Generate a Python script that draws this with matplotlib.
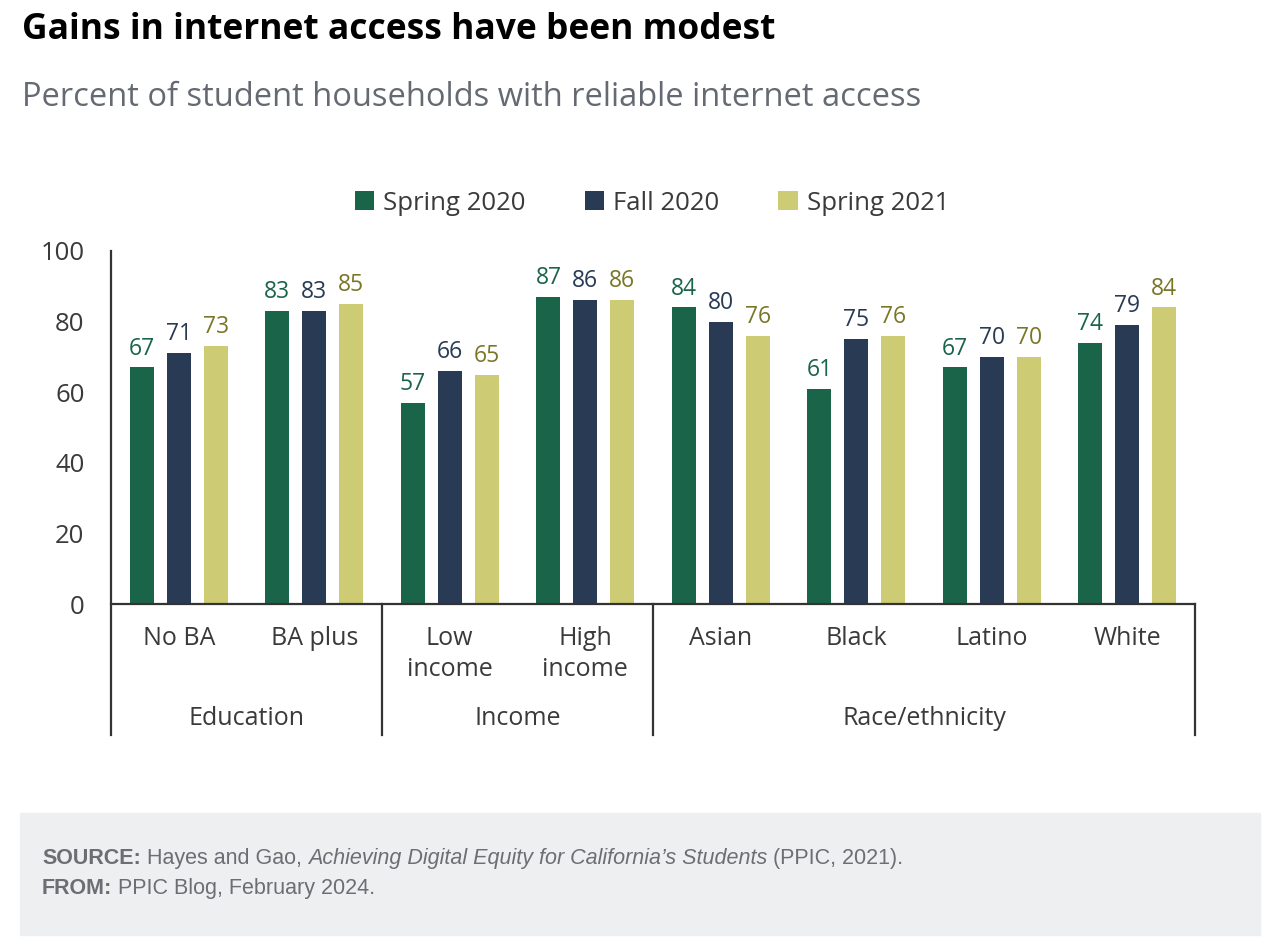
import matplotlib.pyplot as plt
import numpy as np

plt.rcParams['font.family'] = ['Open Sans', 'DejaVu Sans']

categories = ['No BA', 'BA plus', 'Low\nincome', 'High\nincome', 'Asian', 'Black', 'Latino', 'White']
groups = ['Education', 'Income', 'Race/ethnicity']
group_spans = [(0, 1), (2, 3), (4, 7)]
series = ['Spring 2020', 'Fall 2020', 'Spring 2021']
spring_2020 = [67, 83, 57, 87, 84, 61, 67, 74]
fall_2020 = [71, 83, 66, 86, 80, 75, 70, 79]
spring_2021 = [73, 85, 65, 86, 76, 76, 70, 84]

bar_colors = ['#1a6449', '#283a54', '#cdcb74']
text_colors = ['#1a6449', '#283a54', '#7a7628']
axis_color = '#333333'
text_grey = '#3a3a3a'

fig = plt.figure(figsize=(12.8, 9.44), dpi=100)
ax = fig.add_axes([111 / 1280, 1 - 604 / 944, (1195 - 111) / 1280, (604 - 251) / 944])

x = np.arange(len(categories))
width = 0.178
offset = 0.272
for i, vals in enumerate([spring_2020, fall_2020, spring_2021]):
    pos = x + (i - 1) * offset
    ax.bar(pos, vals, width, color=bar_colors[i], label=series[i], zorder=2)
    for p, v in zip(pos, vals):
        ax.annotate(str(v), (p, v), xytext=(0, 5), textcoords='offset points',
                    ha='center', va='bottom', fontsize=16.5, color=text_colors[i])

ax.set_xlim(-0.5, len(categories) - 0.5)
ax.set_ylim(0, 100)
ax.set_yticks(range(0, 101, 20))
ax.tick_params(axis='y', length=0, labelsize=18.5, labelcolor=text_grey, pad=19)
ax.set_xticks([])
for s in ['top', 'right']:
    ax.spines[s].set_visible(False)
ax.spines['left'].set_visible(False)
ax.spines['bottom'].set_color(axis_color)
ax.spines['bottom'].set_linewidth(1.6)

# vertical separators extending below the axis
bottom_px = 735
y_low = -(bottom_px - 604) / (604 - 251) * 100
for xs in [-0.5, 1.5, 3.5, 7.5]:
    top = 100 if xs == -0.5 else 0
    ax.plot([xs, xs], [y_low, top], color=axis_color, lw=1.6, clip_on=False, zorder=3)

# category labels
for xi, name in zip(x, categories):
    ax.text(xi, -6.3, name, ha='center', va='top', fontsize=18, color=text_grey,
            linespacing=1.3)
for g, (a, b) in zip(groups, group_spans):
    ax.text((a + b) / 2, -32.5, g, ha='center', va='center', fontsize=18, color=text_grey)

fig.legend(loc='center', bbox_to_anchor=(652 / 1280, 1 - 203 / 944), ncol=3,
           frameon=False, fontsize=18.5, handlelength=0.75, handleheight=0.75,
           handletextpad=0.35, columnspacing=2.3, labelcolor=text_grey)

fig.text(22 / 1280, 1 - 30 / 944, 'Gains in internet access have been modest',
         fontsize=25.5, fontweight='bold', color='black', va='center')
fig.text(22 / 1280, 1 - 97 / 944, 'Percent of student households with reliable internet access',
         fontsize=23.5, color='#656a72', va='center')

# source box
box = plt.Rectangle((20 / 1280, 1 - 935 / 944), 1240 / 1280, 122 / 944,
                    transform=fig.transFigure, color='#eeeff1', zorder=0)
fig.patches.append(box)
src_font = ['Liberation Sans', 'DejaVu Sans']
src_col = '#6b6e73'
src_size = 15.5
y1 = 1 - 864 / 944
y2 = 1 - 894 / 944
t1 = fig.text(42 / 1280, y1, 'SOURCE:', fontsize=src_size, fontweight='bold',
              color=src_col, va='baseline', family=src_font)
parts = [(' Hayes and Gao, ', 'normal'),
         ('Achieving Digital Equity for California\u2019s Students', 'italic'),
         (' (PPIC, 2021).', 'normal')]
fig.canvas.draw()
prev = t1
for txt, style in parts:
    bb = prev.get_window_extent()
    prev = fig.text(bb.x1 / fig.bbox.width, y1, txt, fontsize=src_size, style=style,
                    color=src_col, va='baseline', family=src_font)
    fig.canvas.draw()
t2 = fig.text(42 / 1280, y2, 'FROM:', fontsize=src_size, fontweight='bold',
              color=src_col, va='baseline', family=src_font)
fig.canvas.draw()
bb = t2.get_window_extent()
fig.text(bb.x1 / fig.bbox.width, y2, ' PPIC Blog, February 2024.', fontsize=src_size,
         color=src_col, va='baseline', family=src_font)

fig.savefig('out.png', dpi=100)
